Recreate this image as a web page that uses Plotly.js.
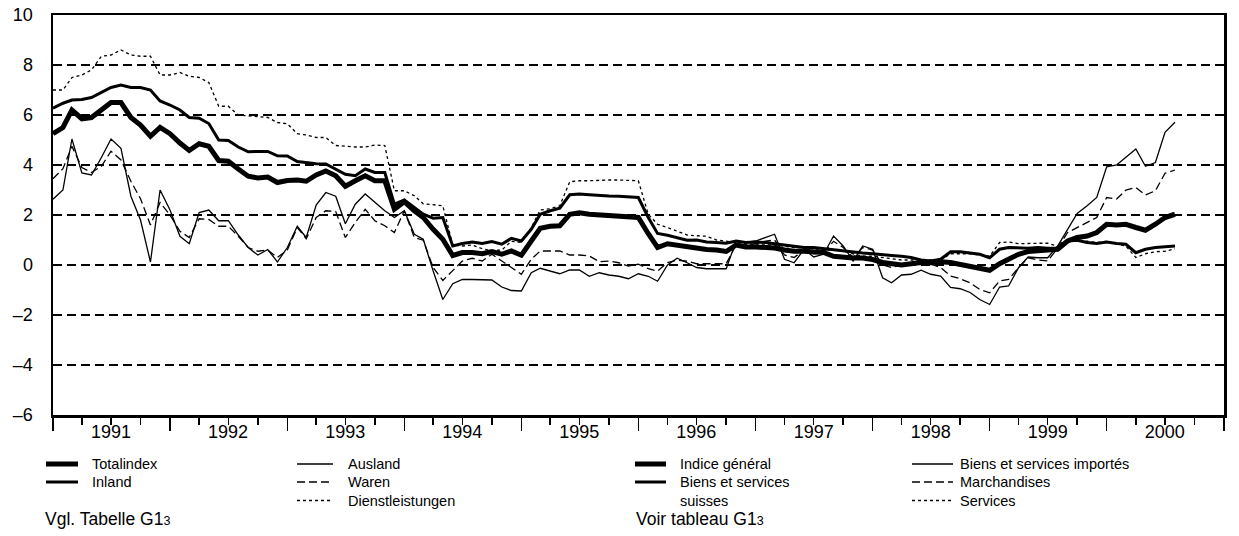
<!DOCTYPE html>
<html>
<head>
<meta charset="utf-8">
<script src="https://cdn.plot.ly/plotly-3.0.1.min.js"></script>
<style>
  html, body { margin: 0; padding: 0; background: #ffffff; }
  #chart { width: 1239px; height: 536px; }
</style>
</head>
<body>
<div id="chart"></div>
<script>
// ---- data: monthly year-on-year change in %, Jan 1991 .. Aug 2000 ----
const startYear = 1991;
const yearLabels = ['1991','1992','1993','1994','1995','1996','1997','1998','1999','2000'];

const totalindex = [
  5.25, 5.5, 6.2, 5.85, 5.9, 6.2, 6.5, 6.5, 5.9, 5.6,
  5.15, 5.5, 5.25, 4.88, 4.58, 4.85, 4.75, 4.18, 4.15, 3.84,
  3.55, 3.48, 3.52, 3.3, 3.38, 3.4, 3.35, 3.6, 3.76, 3.57,
  3.15, 3.37, 3.57, 3.37, 3.37, 2.23, 2.53, 2.17, 1.9, 1.43,
  1.03, 0.38, 0.5, 0.5, 0.45, 0.54, 0.43, 0.56, 0.39, 0.96,
  1.47, 1.55, 1.57, 2.03, 2.09, 2.03, 2.0, 1.97, 1.94, 1.93,
  1.9, 1.25, 0.7, 0.85, 0.8, 0.7, 0.7, 0.62, 0.6, 0.54,
  0.8, 0.72, 0.72, 0.7, 0.68, 0.6, 0.55, 0.55, 0.52, 0.5,
  0.35, 0.3, 0.28, 0.28, 0.22, 0.1, 0.05, 0.0, 0.05, 0.1,
  0.09, 0.13, 0.1, 0.03, -0.05, -0.1, -0.21, 0.05, 0.25, 0.43,
  0.54, 0.59, 0.6, 0.63, 0.96, 1.1, 1.16, 1.3, 1.63, 1.6,
  1.63, 1.5, 1.39, 1.63, 1.9, 2.03
];
const inland = [
  6.27, 6.47, 6.6, 6.62, 6.7, 6.92, 7.1, 7.2, 7.1, 7.1,
  7.0, 6.56, 6.4, 6.2, 5.9, 5.87, 5.66, 5.0, 4.98, 4.72,
  4.53, 4.54, 4.54, 4.37, 4.36, 4.14, 4.1, 4.05, 4.04, 3.84,
  3.63, 3.57, 3.84, 3.7, 3.7, 2.43, 2.6, 2.3, 2.03, 1.87,
  1.9, 0.76, 0.86, 0.92, 0.86, 0.94, 0.83, 1.07, 0.96, 1.43,
  2.03, 2.17, 2.27, 2.81, 2.84, 2.81, 2.77, 2.76, 2.75, 2.73,
  2.7, 1.9, 1.26, 1.19, 1.1, 0.99, 1.0, 0.92, 0.9, 0.87,
  0.96, 0.9, 0.92, 0.9, 0.85, 0.8, 0.75, 0.7, 0.7, 0.65,
  0.6, 0.55, 0.5, 0.48, 0.45, 0.4, 0.38, 0.35, 0.3, 0.2,
  0.16, 0.23, 0.53, 0.53, 0.49, 0.43, 0.29, 0.63, 0.7, 0.67,
  0.67, 0.7, 0.67, 0.67, 0.96, 0.99, 0.9, 0.86, 0.92, 0.86,
  0.83, 0.49, 0.63, 0.7, 0.72, 0.76
];
const ausland = [
  2.63, 3.0, 5.04, 3.68, 3.6, 4.3, 5.04, 4.67, 2.75, 1.8,
  0.12, 3.0, 2.2, 1.15, 0.85, 2.1, 2.2, 1.77, 1.77, 1.2,
  0.7, 0.4, 0.62, 0.12, 0.7, 1.55, 1.1, 2.4, 2.9, 2.75,
  1.65, 2.43, 2.84, 2.5, 2.17, 1.9, 2.17, 1.23, 1.03, -0.24,
  -1.38, -0.75, -0.58, -0.58, -0.58, -0.6, -0.88, -1.02, -1.04, -0.31,
  -0.13, -0.24, -0.35, -0.2, -0.2, -0.45, -0.31, -0.4, -0.45, -0.55,
  -0.35, -0.45, -0.65, 0.0, 0.27, 0.09, -0.1, -0.15, -0.15, -0.15,
  0.96, 0.9, 0.96, 1.1, 1.23, 0.23, 0.09, 0.63, 0.32, 0.43,
  1.16, 0.76, 0.16, 0.76, 0.63, -0.51, -0.71, -0.4, -0.37, -0.21,
  -0.37, -0.44, -0.9, -0.95, -1.1, -1.38, -1.58, -0.88, -0.84, -0.11,
  0.32, 0.29, 0.29, 0.76, 1.43, 2.06, 2.37, 2.7, 3.93, 4.0,
  4.31, 4.64, 3.95, 4.1, 5.31, 5.71
];
const waren = [
  3.45, 3.85, 4.75, 3.9, 3.7, 3.95, 4.55, 4.2, 3.35, 2.65,
  1.6, 2.5, 2.0, 1.35, 1.1, 1.85, 1.82, 1.55, 1.55, 1.15,
  0.7, 0.55, 0.6, 0.3, 0.6, 1.5, 1.05, 1.9, 2.17, 2.14,
  1.1, 1.7, 2.23, 1.77, 1.57, 1.3, 2.17, 1.1, 0.99, -0.1,
  -0.62, -0.24, 0.16, 0.27, 0.16, 0.43, 0.15, -0.1, -0.37, 0.23,
  0.56, 0.56, 0.56, 0.4, 0.4, 0.36, 0.13, 0.16, 0.09, -0.04,
  0.03, -0.15, -0.24, 0.1, 0.2, 0.15, 0.05, 0.05, 0.05, 0.05,
  0.8, 0.8, 0.85, 0.95, 1.0, 0.4, 0.3, 0.6, 0.45, 0.5,
  0.95, 0.7, 0.3, 0.7, 0.6, 0.0, -0.1, 0.0, 0.0, 0.1,
  0.03, -0.1, -0.44, -0.55, -0.71, -0.98, -1.11, -0.64, -0.58, -0.11,
  0.29, 0.2, 0.16, 0.67, 1.3, 1.5, 1.7, 1.9, 2.7, 2.64,
  3.0, 3.1, 2.8, 2.97, 3.67, 3.8
];
const dienstleistungen = [
  7.0, 7.0, 7.5, 7.6, 7.8, 8.35, 8.4, 8.6, 8.4, 8.35,
  8.35, 7.6, 7.6, 7.7, 7.55, 7.5, 7.3, 6.35, 6.35, 6.0,
  5.97, 5.95, 5.9, 5.7, 5.65, 5.25, 5.2, 5.1, 5.1, 4.78,
  4.75, 4.72, 4.72, 4.8, 4.78, 2.97, 2.97, 2.77, 2.45, 2.4,
  2.37, 0.8, 0.76, 0.8, 0.65, 0.58, 0.6, 0.95, 0.9, 1.5,
  2.2, 2.25, 2.37, 3.33, 3.37, 3.37, 3.4, 3.4, 3.4, 3.38,
  3.37, 2.03, 1.63, 1.5, 1.35, 1.2, 1.17, 1.15, 1.0, 0.95,
  0.92, 0.85, 0.8, 0.8, 0.8, 0.75, 0.7, 0.7, 0.65, 0.6,
  0.6, 0.55, 0.45, 0.35, 0.35, 0.3, 0.25, 0.2, 0.2, 0.2,
  0.2, 0.2, 0.45, 0.45, 0.45, 0.4, 0.35, 0.9, 0.92, 0.85,
  0.87, 0.87, 0.87, 0.75, 0.95, 1.0, 0.95, 0.9, 0.95, 0.85,
  0.75, 0.3, 0.45, 0.53, 0.55, 0.65
];

const yTickVals = [-6, -4, -2, 0, 2, 4, 6, 8, 10];
const yTickText = ['\u20136', '\u20134', '\u20132', '0', '2', '4', '6', '8', '10'];

// legend texts (German / French)
const legendDE = ['Totalindex', 'Inland', 'Ausland', 'Waren', 'Dienstleistungen'];
const legendFR = ['Indice général', 'Biens et services<br>suisses', 'Biens et services importés', 'Marchandises', 'Services'];
const noteDE = 'Vgl. Tabelle G1<span style="font-size:12.5px">3</span>';
const noteFR = 'Voir tableau G1<span style="font-size:12.5px">3</span>';

// ---- build monthly dates ----
const dates = totalindex.map((_, i) => {
  const y = startYear + Math.floor(i / 12);
  const m = (i % 12) + 1;
  return y + '-' + (m < 10 ? '0' + m : m) + '-01';
});
const yearTicks = yearLabels.map(y => y + '-01-01').concat([(startYear + yearLabels.length) + '-01-01']);
const yearText = yearLabels.concat(['']);

const FONT = 'Liberation Sans, Arial, Helvetica, sans-serif';

const styles = [
  {w: 5, dash: 'solid'},
  {w: 3, dash: 'solid'},
  {w: 1.3, dash: 'solid'},
  {w: 1.3, dash: '8px,4px'},
  {w: 1.3, dash: '3px,3px'}
];
const series = [totalindex, inland, ausland, waren, dienstleistungen];

const traces = series.map((s, i) => ({
  x: dates, y: s, type: 'scatter', mode: 'lines', name: legendDE[i],
  line: {color: '#000000', width: styles[i].w, dash: styles[i].dash, shape: 'linear'},
  hoverinfo: 'skip'
}));

// plot area in px: left 53, right 1224, top 15, bottom 415
const L = 53, R = 1224, T = 15, B = 415;
const px = x => (x - L) / (R - L);
const py = y => (B - y) / (B - T);

const shapes = [];
const annotations = [];
const rowsY = [464, 482, 500.5];
function legendItem(x0, x1, tx, row, st, label) {
  shapes.push({type: 'line', xref: 'paper', yref: 'paper',
    x0: px(x0), x1: px(x1), y0: py(rowsY[row]), y1: py(rowsY[row]),
    line: {color: '#000', width: st.w, dash: st.dash}});
  annotations.push({xref: 'paper', yref: 'paper', x: px(tx), y: py(rowsY[row]) + (label.indexOf('<br>') >= 0 ? -0.0225 : 0),
    text: label, showarrow: false, xanchor: 'left', yanchor: 'middle', align: 'left',
    font: {family: FONT, size: 14.5, color: '#000'}});
}
legendItem(46, 78, 90, 0, styles[0], legendDE[0]);
legendItem(46, 78, 90, 1, styles[1], legendDE[1]);
legendItem(297, 333, 346, 0, styles[2], legendDE[2]);
legendItem(297, 333, 346, 1, styles[3], legendDE[3]);
legendItem(297, 333, 346, 2, styles[4], legendDE[4]);
legendItem(635, 666, 678, 0, styles[0], legendFR[0]);
legendItem(635, 666, 678, 1, styles[1], legendFR[1]);
legendItem(912, 953, 958, 0, styles[2], legendFR[2]);
legendItem(912, 953, 958, 1, styles[3], legendFR[3]);
legendItem(912, 953, 958, 2, styles[4], legendFR[4]);

annotations.push({xref: 'paper', yref: 'paper', x: px(43), y: py(519), text: noteDE, showarrow: false,
  xanchor: 'left', yanchor: 'middle', font: {family: FONT, size: 17.5, color: '#000'}});
annotations.push({xref: 'paper', yref: 'paper', x: px(634), y: py(519), text: noteFR, showarrow: false,
  xanchor: 'left', yanchor: 'middle', font: {family: FONT, size: 17.5, color: '#000'}});

const layout = {
  width: 1239, height: 536,
  margin: {l: L, r: 1239 - R, t: T, b: 536 - B},
  paper_bgcolor: '#ffffff', plot_bgcolor: '#ffffff',
  showlegend: false,
  font: {family: FONT, color: '#000'},
  xaxis: {
    type: 'date', range: [yearTicks[0], yearTicks[yearTicks.length - 1]],
    tickmode: 'array', tickvals: yearTicks, ticktext: yearText,
    ticks: 'outside', ticklen: 13, tickwidth: 1.5, tickcolor: '#000',
    ticklabelshift: 58, ticklabelstandoff: -14,
    tickfont: {family: FONT, size: 18, color: '#000'},
    minor: {dtick: 'M3', tick0: yearTicks[0], ticks: 'outside', ticklen: 7, tickwidth: 1.5, tickcolor: '#000', showgrid: false},
    showgrid: false, zeroline: false,
    showline: true, linecolor: '#000', linewidth: 2.5, mirror: true,
    fixedrange: true
  },
  yaxis: {
    range: [-6, 10], tickmode: 'array', tickvals: yTickVals, ticktext: yTickText,
    ticks: '', ticklabelstandoff: 14,
    tickfont: {family: FONT, size: 18, color: '#000'},
    showgrid: true, gridcolor: '#000', gridwidth: 2, griddash: '9px,5px',
    zeroline: false,
    showline: true, linecolor: '#000', linewidth: 2.5, mirror: true,
    fixedrange: true
  },
  shapes: shapes,
  annotations: annotations
};

Plotly.newPlot('chart', traces, layout, {staticPlot: true, displayModeBar: false});
</script>
</body>
</html>
